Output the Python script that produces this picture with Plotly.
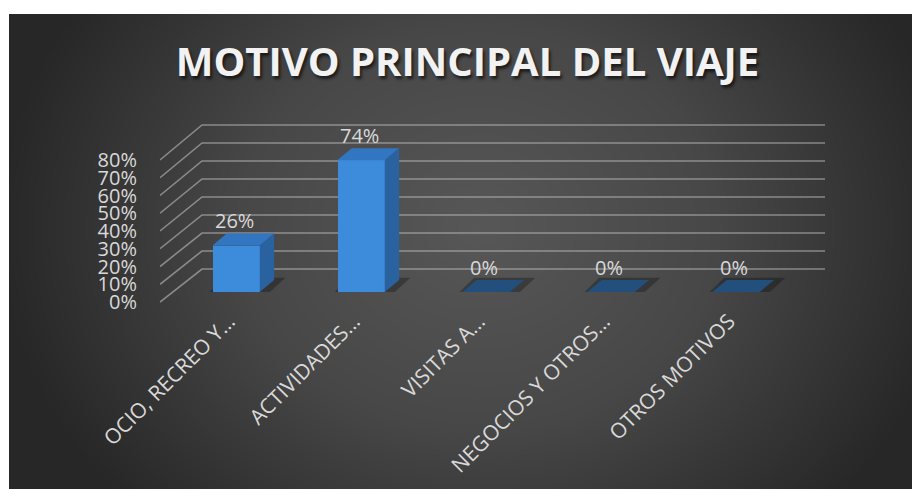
import numpy as np
import plotly.graph_objects as go

# ---------------- data ----------------
categories = ["OCIO, RECREO Y…", "ACTIVIDADES…", "VISITAS A…", "NEGOCIOS Y OTROS…", "OTROS MOTIVOS"]
values = [0.26, 0.74, 0.0, 0.0, 0.0]
value_labels = ["26%", "74%", "0%", "0%", "0%"]
y_tick_values = [0.0, 0.1, 0.2, 0.3, 0.4, 0.5, 0.6, 0.7, 0.8]
y_tick_labels = ["0%", "10%", "20%", "30%", "40%", "50%", "60%", "70%", "80%"]
title_text = "MOTIVO PRINCIPAL DEL VIAJE"

# ---------------- layout helpers ----------------
W, H = 912, 489
def fx(px):
    return px / W
def fy(px):
    return 1 - px / H

FONT = "Open Sans"
TXT = "#d9d9d9"

fig = go.Figure()

# background radial gradient (subplot x/y, drawn first)
gx = np.linspace(0, 1, 61)
gy = np.linspace(0, 1, 41)
X, Y = np.meshgrid(gx, gy)
cx, cy, rx, ry = 0.52, 0.55, 0.53, 0.85
Z = np.clip(np.sqrt(((X - cx) / rx) ** 2 + ((Y - cy) / ry) ** 2), 0, 1)
fig.add_trace(go.Heatmap(
    x=gx, y=gy, z=Z, xaxis="x", yaxis="y", zmin=0, zmax=1, zsmooth="best",
    colorscale=[[0, "#575757"], [0.5, "#474747"], [1, "#272727"]],
    showscale=False, hoverinfo="skip"))

# 3D gridlines: front diagonal + back wall (subplot x2/y2, front-plane value units)
front_scale = 177.5
back_scale = 180.0
depth_dy = 33.0
back_x = 42.0 / 665.0
gl_x, gl_y = [], []
for v in y_tick_values:
    yb = v * back_scale / front_scale + depth_dy / front_scale
    gl_x += [0.0, back_x, 1.0, None]
    gl_y += [v, yb, yb, None]
fig.add_trace(go.Scatter(
    x=gl_x, y=gl_y, xaxis="x2", yaxis="y2", mode="lines",
    line=dict(color="rgba(200,200,200,0.55)", width=1.6),
    hoverinfo="skip", cliponaxis=False))

# bars: front faces (subplot x3/y3)
bw = 0.38
ddx, ddy = 0.115, 0.068
xs = list(range(len(categories)))
fig.add_trace(go.Bar(
    x=xs, y=values, width=bw, xaxis="x3", yaxis="y3",
    marker=dict(color="#3d8cdb", line=dict(width=0)), hoverinfo="skip"))

shapes = []
for i, v in zip(xs, values):
    # soft floor shadow
    shapes.append(dict(
        type="path", xref="x3", yref="y3", layer="below",
        path=(f"M {i-bw/2-0.05},{-0.02} L {i+bw/2+0.05},{-0.02} "
              f"L {i+bw/2+ddx+0.09},{ddy+0.012} L {i-bw/2+ddx-0.02},{ddy+0.012} Z"),
        fillcolor="rgba(0,0,0,0.28)", line=dict(width=0)))
    # top face
    fig.add_trace(go.Scatter(
        x=[i - bw/2, i + bw/2, i + bw/2 + ddx, i - bw/2 + ddx, i - bw/2],
        y=[v, v, v + ddy, v + ddy, v],
        xaxis="x3", yaxis="y3", mode="lines", fill="toself",
        fillcolor="#3275c0" if v > 0 else "#224f7c",
        line=dict(width=0), hoverinfo="skip"))
    if v > 0:
        # side face
        fig.add_trace(go.Scatter(
            x=[i + bw/2, i + bw/2 + ddx, i + bw/2 + ddx, i + bw/2, i + bw/2],
            y=[0, ddy, v + ddy, v, 0],
            xaxis="x3", yaxis="y3", mode="lines", fill="toself",
            fillcolor="#2a62a0", line=dict(width=0), hoverinfo="skip"))

annotations = []
for i, v, t in zip(xs, values, value_labels):
    annotations.append(dict(
        x=i, y=v, xref="x3", yref="y3", text=t, showarrow=False,
        yshift=25, xshift=-2, font=dict(family=FONT, size=20, color=TXT)))

fig.update_layout(
    width=W, height=H, autosize=False,
    margin=dict(l=0, r=0, t=0, b=0, autoexpand=False),
    paper_bgcolor="white",
    plot_bgcolor="rgba(0,0,0,0)",
    showlegend=False,
    bargap=0,
    title=dict(
        text=title_text, x=fx(467.5), y=fy(61.5), xref="paper", yref="paper",
        xanchor="center", yanchor="middle", automargin=False,
        font=dict(family=FONT, size=40, color="#f2f2f2", weight=700,
                  shadow="2px 3px 3px rgba(0,0,0,0.6)")),
    xaxis=dict(domain=[fx(9), 1], range=[0, 1], visible=False, anchor="y", automargin=False),
    yaxis=dict(domain=[0, fy(14)], range=[0, 1], visible=False, anchor="x", automargin=False),
    xaxis2=dict(domain=[fx(160), fx(825)], range=[0, 1], visible=False, anchor="y2", automargin=False),
    yaxis2=dict(domain=[fy(305.55), fy(120.95)], range=[-0.02, 1.02], anchor="x2",
                tickvals=y_tick_values, ticktext=y_tick_labels, automargin=False,
                showgrid=False, zeroline=False, showline=False, ticks="",
                ticklabelstandoff=22,
                tickfont=dict(family=FONT, size=20, color=TXT)),
    xaxis3=dict(domain=[fx(173.5), fx(798.5)], range=[-0.5, 4.5], anchor="y3",
                tickvals=xs, ticktext=categories, tickangle=-45, automargin=False,
                showgrid=False, zeroline=False, showline=False, ticks="",
                ticklabelstandoff=12, ticklabelshift=-7,
                tickfont=dict(family=FONT, size=21, color=TXT)),
    yaxis3=dict(domain=[fy(292), fy(114)], range=[0, 1], visible=False, anchor="x3",
                automargin=False),
    shapes=shapes,
    annotations=annotations,
)

post = ("document.body.style.margin='0';"
        "var gd=document.getElementById('{plot_id}');"
        "gd.style.width='912px';gd.style.height='489px';"
        "Plotly.relayout(gd,{width:912,height:489});")

fig.write_html("out.html", config=dict(responsive=False, displayModeBar=False),
               post_script=post)
